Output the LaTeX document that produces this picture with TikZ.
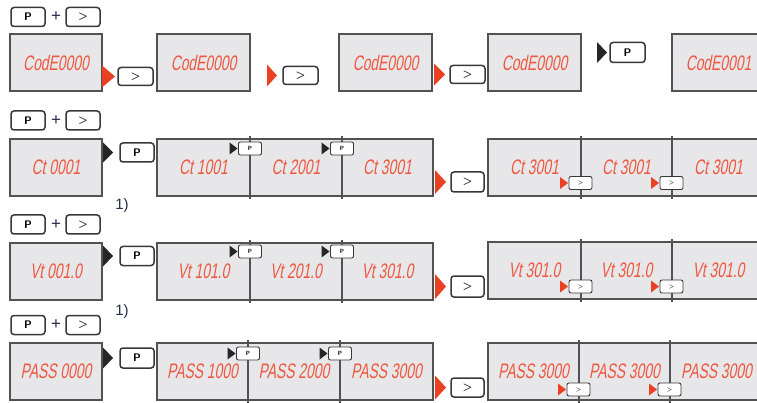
\documentclass[tikz,border=0pt]{standalone}
\usepackage{fontspec}
\newfontfamily\segfont[FakeStretch=0.66,FakeSlant=0.18]{Liberation Sans}
\newfontfamily\notefont{Liberation Sans}
\definecolor{segred}{RGB}{238,88,64}
\definecolor{tipred}{RGB}{234,64,36}
\definecolor{panelgray}{RGB}{231,231,233}
\definecolor{inkblue}{RGB}{38,46,72}
\def\pointer[#1](#2)(#3:#4){\fill[#1] (#2) -- ++(-#3,{#4/2}) -- ++(0,-#4) -- cycle;}
\tikzset{
	display/.style={draw=black!68, line width=1.3pt, fill=panelgray, minimum height=57pt, inner sep=0pt, outer sep=0pt, anchor=north west, font=\segfont\fontsize{21}{21}\selectfont, text=segred},
	key/.style={draw=black!78, line width=1.5pt, fill=white, rounded corners=3pt, minimum width=34pt, minimum height=19pt, inner sep=0pt, outer sep=0pt, font=\sffamily\bfseries\fontsize{11}{11}\selectfont},
	smallkey/.style={key, line width=0.9pt, rounded corners=2pt, minimum width=23pt, minimum height=13pt, font=\sffamily\bfseries\fontsize{6}{6}\selectfont},
	plus/.style={inner sep=0pt, text=inkblue, font=\notefont\fontsize{17}{17}\selectfont},
	note/.style={inner sep=0pt, text=inkblue, font=\notefont\fontsize{15}{15}\selectfont},
	divider/.style={draw=black!68, line width=1.3pt}
}
\begin{document}
\begin{tikzpicture}[x=1pt,y=-1pt]
	%%%%% START %%%%%
	\useasboundingbox (0,0) rectangle (757,403);
	
	% code row
	\node[key] (p1) at (28,17) {P};
	\node[plus] (plus1) at (56,17) {+};
	\node[key] (n1) at (83,17) {>};
	\node[display, minimum width=92pt] (d11) at (10,34) {CodE0000};
	\node[key, minimum width=35pt, minimum height=18pt] (k11) at (135.5,76.5) {>};
	\pointer[tipred]([xshift=-3pt]k11.west)(13:22)
	\node[display, minimum width=93pt] (d12) at (157,34) {CodE0000};
	\node[key, minimum width=35pt, minimum height=18pt] (k12) at (300.5,75.5) {>};
	\pointer[tipred]([xshift=-6pt]k12.west)(10:22)
	\node[display, minimum width=93pt] (d13) at (339,34) {CodE0000};
	\node[key, minimum width=35pt, minimum height=18pt] (k13) at (467.5,74.5) {>};
	\pointer[tipred]([xshift=-5pt]k13.west)(11:22)
	\node[display, minimum width=93pt] (d14) at (488,34) {CodE0000};
	\node[key, minimum width=35pt, minimum height=20pt] (k14) at (627.5,52.5) {P};
	\pointer[black!85]([xshift=-3pt]k14.west)(10:21)
	\node[display, minimum width=93pt] (d15) at (672,34) {CodE0001};
	
	% Ct row
	\node[key] (p2) at (28,120.5) {P};
	\node[plus] (plus2) at (56,120.5) {+};
	\node[key] (n2) at (83,120.5) {>};
	\node[display, minimum width=92pt] (d21) at (10,139) {Ct 0001};
	\node[key] (k21) at (137,152.5) {P};
	\pointer[black!85]([xshift=-7pt]k21.west)(10:20)
	\node[display, minimum width=93pt] (d22) at (157,139) {Ct 1001};
	\node[display, minimum width=92pt] (d23) at (250,139) {Ct 2001};
	\node[display, minimum width=91pt] (d24) at (342,139) {Ct 3001};
	\draw[divider] ([yshift=3pt]d22.north east) -- ([yshift=-3pt]d22.south east);
	\draw[divider] ([yshift=3pt]d23.north east) -- ([yshift=-3pt]d23.south east);
	\node[smallkey] (s21) at (250,148.5) {P};
	\pointer[black!85]([xshift=-1pt]s21.west)(8:12)
	\node[smallkey] (s22) at (342,148.5) {P};
	\pointer[black!85]([xshift=-1pt]s22.west)(8:12)
	\node[note] (note1) at (122,206) {1)};
	\node[key, minimum width=33pt, minimum height=20pt] (k22) at (467.5,182) {>};
	\pointer[tipred]([xshift=-5pt]k22.west)(11:24)
	\node[display, minimum width=93pt] (d25) at (488,139) {Ct 3001};
	\node[display, minimum width=91pt] (d26) at (581,139) {Ct 3001};
	\node[display, minimum width=93pt] (d27) at (672,139) {Ct 3001};
	\draw[divider] ([yshift=3pt]d25.north east) -- ([yshift=-3pt]d25.south east);
	\draw[divider] ([yshift=3pt]d26.north east) -- ([yshift=-3pt]d26.south east);
	\node[smallkey] (s23) at (580.5,183) {>};
	\pointer[tipred]([xshift=-1pt]s23.west)(8:12)
	\node[smallkey] (s24) at (671.5,183) {>};
	\pointer[tipred]([xshift=-1pt]s24.west)(8:12)
	
	% Vt row
	\node[key] (p3) at (28,224.5) {P};
	\node[plus] (plus3) at (56,224.5) {+};
	\node[key] (n3) at (83,224.5) {>};
	\node[display, minimum width=92pt] (d31) at (10,243) {Vt 001.0};
	\node[key] (k31) at (137,256) {P};
	\pointer[black!85]([xshift=-7pt]k31.west)(10:21)
	\node[display, minimum width=93pt] (d32) at (157,243) {Vt 101.0};
	\node[display, minimum width=92pt] (d33) at (250,243) {Vt 201.0};
	\node[display, minimum width=91pt] (d34) at (342,243) {Vt 301.0};
	\draw[divider] ([yshift=3pt]d32.north east) -- ([yshift=-3pt]d32.south east);
	\draw[divider] ([yshift=3pt]d33.north east) -- ([yshift=-3pt]d33.south east);
	\node[smallkey] (s31) at (250,251.5) {P};
	\pointer[black!85]([xshift=-1pt]s31.west)(8:12)
	\node[smallkey] (s32) at (342,251.5) {P};
	\pointer[black!85]([xshift=-1pt]s32.west)(8:12)
	\node[note] (note2) at (122,312) {1)};
	\node[key, minimum width=33pt, minimum height=21pt] (k32) at (467.5,286.5) {>};
	\pointer[tipred]([xshift=-5pt]k32.west)(11:25)
	\node[display, minimum width=93pt] (d35) at (488,242) {Vt 301.0};
	\node[display, minimum width=91pt] (d36) at (581,242) {Vt 301.0};
	\node[display, minimum width=93pt] (d37) at (672,242) {Vt 301.0};
	\draw[divider] ([yshift=3pt]d35.north east) -- ([yshift=-3pt]d35.south east);
	\draw[divider] ([yshift=3pt]d36.north east) -- ([yshift=-3pt]d36.south east);
	\node[smallkey] (s33) at (580.5,286.5) {>};
	\pointer[tipred]([xshift=-1pt]s33.west)(8:12)
	\node[smallkey] (s34) at (671.5,286.5) {>};
	\pointer[tipred]([xshift=-1pt]s34.west)(8:12)
	
	% PASS row
	\node[key] (p4) at (28,325) {P};
	\node[plus] (plus4) at (56,325) {+};
	\node[key] (n4) at (83,325) {>};
	\node[display, minimum width=92pt] (d41) at (10,343) {PASS 0000};
	\node[key, minimum height=20pt] (k41) at (137,358) {P};
	\pointer[black!85]([xshift=-7pt]k41.west)(10:21)
	\node[display, minimum width=91pt] (d42) at (157,343) {PASS 1000};
	\node[display, minimum width=92pt] (d43) at (248,343) {PASS 2000};
	\node[display, minimum width=93pt] (d44) at (340,343) {PASS 3000};
	\draw[divider] ([yshift=3pt]d42.north east) -- ([yshift=-3pt]d42.south east);
	\draw[divider] ([yshift=3pt]d43.north east) -- ([yshift=-3pt]d43.south east);
	\node[smallkey] (s41) at (248,353.5) {P};
	\pointer[black!85]([xshift=-1pt]s41.west)(8:12)
	\node[smallkey] (s42) at (340,353.5) {P};
	\pointer[black!85]([xshift=-1pt]s42.west)(8:12)
	\node[key, minimum width=33pt, minimum height=19pt] (k42) at (467.5,387.5) {>};
	\pointer[tipred]([xshift=-5pt]k42.west)(11:24)
	\node[display, minimum width=91pt] (d45) at (488,343) {PASS 3000};
	\node[display, minimum width=91pt] (d46) at (579,343) {PASS 3000};
	\node[display, minimum width=93pt] (d47) at (670,343) {PASS 3000};
	\draw[divider] ([yshift=3pt]d45.north east) -- ([yshift=-3pt]d45.south east);
	\draw[divider] ([yshift=3pt]d46.north east) -- ([yshift=-3pt]d46.south east);
	\node[smallkey] (s43) at (578.5,389.5) {>};
	\pointer[tipred]([xshift=-1pt]s43.west)(8:12)
	\node[smallkey] (s44) at (669.5,389.5) {>};
	\pointer[tipred]([xshift=-1pt]s44.west)(8:12)
	
	%%%%% END %%%%%
\end{tikzpicture}
\end{document}
